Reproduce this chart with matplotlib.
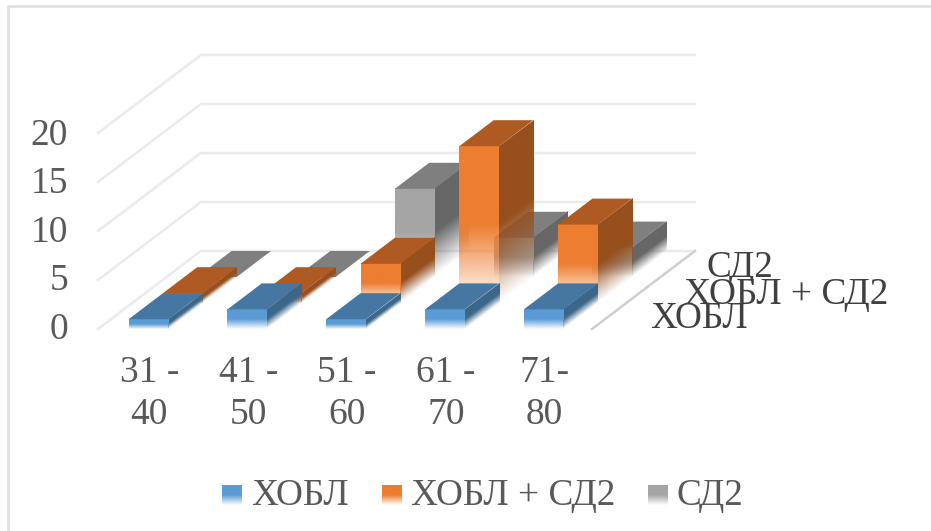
import matplotlib
matplotlib.use('Agg')
import matplotlib.pyplot as plt
import numpy as np
from matplotlib.colors import to_rgb
from matplotlib.patches import Polygon
from matplotlib.transforms import Affine2D

categories = ['31 -\n40', '41 -\n50', '51 -\n60', '61 -\n70', '71-\n80']
series_names = ['ХОБЛ', 'ХОБЛ + СД2', 'СД2']
copd = [1, 2, 1, 2, 2]
copd_dm = [1, 1, 4, 16, 8]
dm = [0, 0, 9, 4, 3]
y_ticks = [0, 5, 10, 15, 20]

front_colors = ['#5B9BD5', '#ED7D31', '#A5A5A5']
top_colors = ['#4676A2', '#AE5A22', '#7F7F7F']
side_colors = ['#3B6789', '#974F1D', '#676767']

# oblique projection of the 3d box onto the canvas, in pixels
X0, Y0 = 98, 329
CAT_W = 98.8
PX_PER_UNIT = 9.8
DEPTH_X, DEPTH_Y = 34.3, -26
BAR_FRAC = 0.4
BAR_PAD = 0.31


def project(x, depth, z):
    return (X0 + x * CAT_W + depth * DEPTH_X,
            Y0 + depth * DEPTH_Y - z * PX_PER_UNIT)


def faded_face(ax, bl, br, tl, color, zorder):
    # parallelogram given by three corners, lower half fades out to the bottom
    rows = 128
    img = np.zeros((rows, 2, 4))
    img[..., :3] = to_rgb(color)
    v = (np.arange(rows) + 0.5) / rows
    img[..., 3] = np.clip(v / 0.5, 0, 1)[:, None]
    skew = Affine2D.from_values(br[0] - bl[0], br[1] - bl[1],
                                tl[0] - bl[0], tl[1] - bl[1], bl[0], bl[1])
    ax.imshow(img, origin='lower', extent=(0, 1, 0, 1), aspect='auto',
              interpolation='bilinear', transform=skew + ax.transData, zorder=zorder)


def draw_bar(ax, cat, s, value, zorder):
    x1 = cat + BAR_PAD
    x2 = x1 + BAR_FRAC
    d1, d2 = s, s + 1
    if value > 0:
        faded_face(ax, project(x2, d1, 0), project(x2, d2, 0), project(x2, d1, value),
                   side_colors[s], zorder)
        faded_face(ax, project(x1, d1, 0), project(x2, d1, 0), project(x1, d1, value),
                   front_colors[s], zorder + 0.1)
    ax.add_patch(Polygon([project(x1, d1, value), project(x2, d1, value),
                          project(x2, d2, value), project(x1, d2, value)],
                         closed=True, facecolor=top_colors[s], edgecolor='none',
                         zorder=zorder + 0.2))


plt.rcParams['font.family'] = ['Liberation Serif', 'DejaVu Serif']
fig = plt.figure(figsize=(9.31, 5.31), dpi=100)
ax = fig.add_axes([0, 0, 1, 1])
ax.axis('off')

# chart frame, only the top and left edges are in view
ax.plot([8, 8, 931], [531, 6, 6], color='#E0E0E0', lw=2, zorder=1)

# walls
n_cat = len(categories)
for t in y_ticks:
    pts = [project(0, 0, t), project(0, 3, t), project(n_cat, 3, t)]
    ax.plot(*zip(*pts), color='#EBEBEB', lw=1.8, zorder=1)
    ax.text(68, project(0, 0, t)[1] + 0.5 + t * 0.1, str(t), ha='right', va='center',
            fontsize=27, color='#595959')
ax.plot(*zip(project(n_cat, 0, 0), project(n_cat, 3, 0)), color='#CFCFCF', lw=1.8, zorder=1)

# back series first so the front ones overlap them
all_series = [copd, copd_dm, dm]
for s in [2, 1, 0]:
    for c in range(n_cat):
        draw_bar(ax, c, s, all_series[s][c], zorder=10 + (2 - s) * 10 + c)

for c, label in enumerate(categories):
    ax.text(project(c + 0.5, 0, 0)[0] + 2, 394, label, ha='center', va='center',
            fontsize=27, color='#595959', linespacing=1.3)

# series names along the depth axis
ax.text(650, 319, series_names[0], ha='left', va='center', fontsize=26.8, color='#404040', zorder=90)
ax.text(684, 295, series_names[1], ha='left', va='center', fontsize=26.8, color='#404040', zorder=90)
ax.text(706, 268, series_names[2], ha='left', va='center', fontsize=26.8, color='#404040', zorder=90)

# legend
key_x = [222, 382, 648]
label_x = [251, 411, 677]
for s in range(3):
    x, y, w, h = key_x[s], 485, 20, 20
    faded_face(ax, (x, y + h), (x + w, y + h), (x, y), front_colors[s], 50)
    ax.text(label_x[s], 496, series_names[s], ha='left', va='center',
            fontsize=26.8, color='#595959')

# imshow moves the limits, so they are set last
ax.set_xlim(0, 931)
ax.set_ylim(531, 0)

fig.savefig('out.png', dpi=100)
